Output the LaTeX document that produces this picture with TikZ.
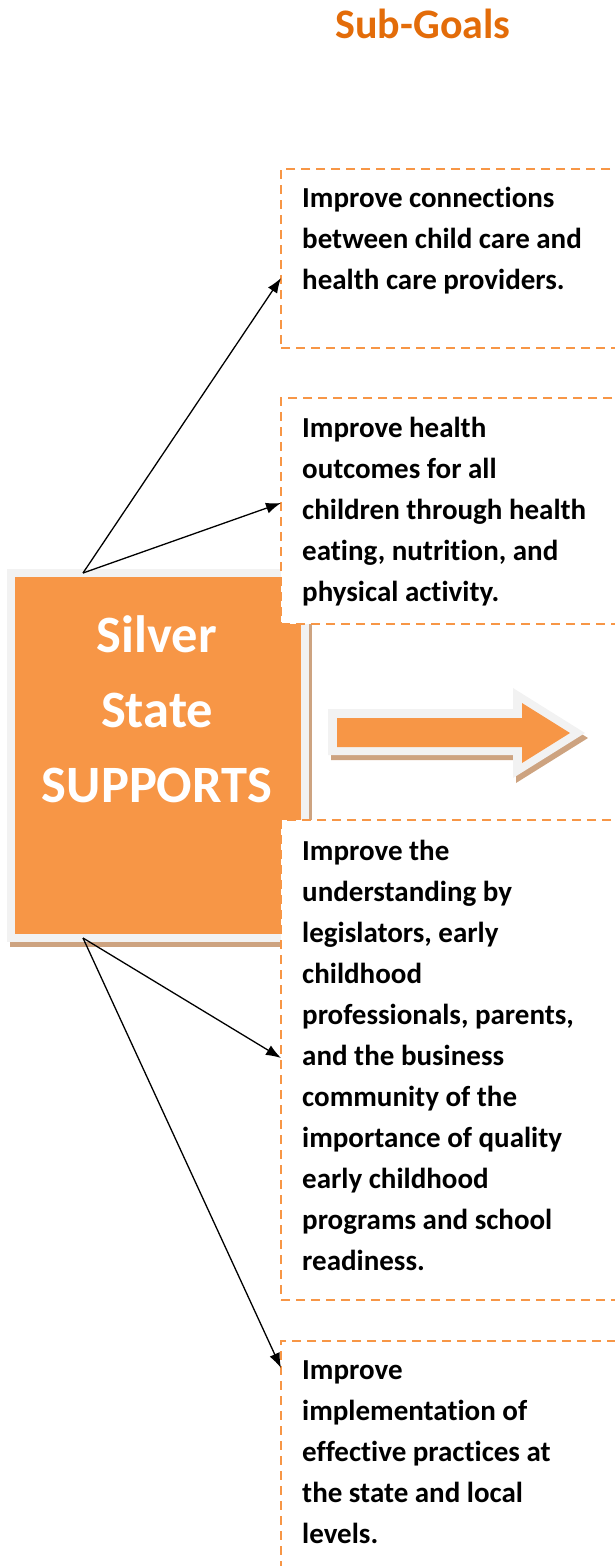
\documentclass[tikz,border=0pt]{standalone}
\usepackage{fontspec}
\setmainfont{Carlito}[Ligatures=NoCommon]
\usetikzlibrary{arrows.meta,shadows}
\definecolor{accent}{HTML}{F79646}
\definecolor{titleorange}{HTML}{E36C09}
\definecolor{rimgray}{HTML}{F2F2F2}
\definecolor{shadowtan}{RGB}{205,163,128}
\tikzset{
  mainbox/.style={rectangle, fill=accent, draw=rimgray, line width=8pt,
    minimum width=294pt, minimum height=365pt, inner sep=0pt, outer sep=0pt,
    general shadow={shadow xshift=3pt, shadow yshift=-5pt, fill=shadowtan,
      draw=shadowtan, line width=8pt}},
  maintext/.style={anchor=base, align=center, text=white, inner sep=0pt,
    font=\bfseries\fontsize{52.5}{75}\selectfont},
  goalbox/.style={draw=accent, line width=2.4pt, dash pattern=on 9pt off 6pt,
    fill=white, anchor=north west, inner sep=0pt, outer sep=0pt, minimum width=360pt},
  goaltext/.style={anchor=base west, align=left, inner sep=0pt,
    font=\bfseries\fontsize{29}{41}\selectfont},
  link/.style={-{Latex[length=15pt,width=11pt]}, line width=1.3pt}
}
\begin{document}
\begin{tikzpicture}[x=1pt,y=-1pt]
  \useasboundingbox (0,0) rectangle (615,1566);
  \clip (0,0) rectangle (615,1566);
  \node[font=\bfseries\fontsize{42}{50}\selectfont, text=titleorange, anchor=base,
    inner sep=0pt] (title) at (423,38) {Sub-Goals};
  \node[mainbox] (silver) at (158,755.5) {};
  \node[maintext] (silvertxt) at (157,802) {Silver\\State\\SUPPORTS};
  \node[goalbox, minimum height=179pt] (goalA) at (281,169) {};
  \node[goalbox, minimum height=226pt] (goalB) at (281,398) {};
  \node[goalbox, minimum height=480pt] (goalC) at (281,820) {};
  \node[goalbox, minimum height=260pt] (goalD) at (281,1341) {};
  \node[goaltext] (textA) at (302,289) {Improve connections\\between child care and\\health care providers.};
  \node[goaltext] (textB) at (302,601) {Improve health\\outcomes for all\\children through health\\eating, nutrition, and\\physical activity.};
  \node[goaltext] (textC) at (302,1270) {Improve the\\understanding by\\legislators, early\\childhood\\professionals, parents,\\and the business\\community of the\\importance of quality\\early childhood\\programs and school\\readiness.};
  \node[goaltext] (textD) at (302,1543) {Improve\\implementation of\\effective practices at\\the state and local\\levels.};
  \draw[link] ([xshift=-75pt]silver.north) -- ([yshift=-109pt]goalA.north west);
  \draw[link] ([xshift=-75pt]silver.north) -- ([yshift=-105pt]goalB.north west);
  \draw[link] ([xshift=-75pt]silver.south) -- ([yshift=-238pt]goalC.north west);
  \draw[link] ([xshift=-75pt]silver.south) -- ([yshift=-27pt]goalD.north west);
  \begin{scope}[shift={(3,5)}]
    \fill[shadowtan] (328,709) -- (513,709) -- (513,688) -- (585,733) -- (513,778)
      -- (513,755) -- (328,755) -- cycle;
  \end{scope}
  \fill[rimgray] (328,709) -- (513,709) -- (513,688) -- (585,733) -- (513,778)
    -- (513,755) -- (328,755) -- cycle;
  \fill[accent] (337,718) -- (522,718) -- (522,703) -- (570,733) -- (522,763)
    -- (522,747) -- (337,747) -- cycle;
\end{tikzpicture}
\end{document}
